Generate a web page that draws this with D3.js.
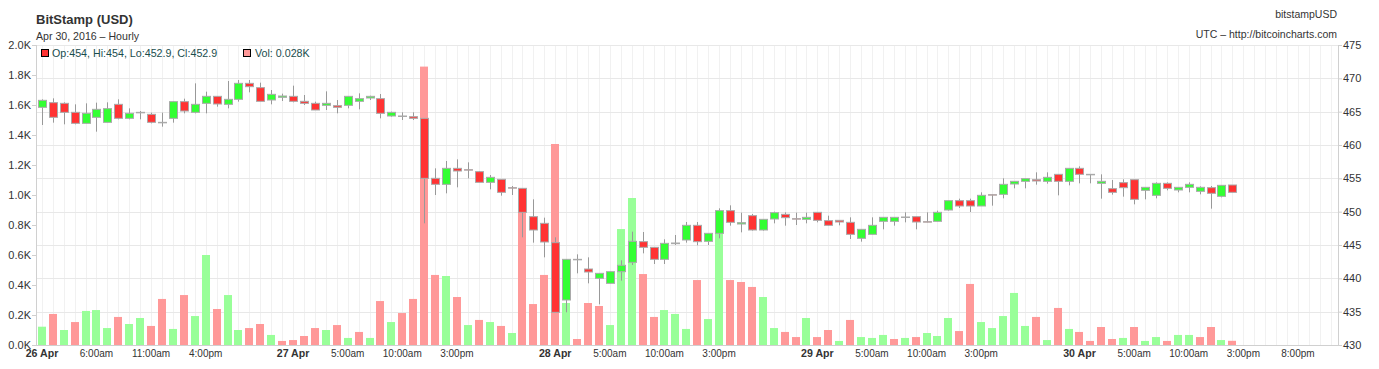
<!DOCTYPE html>
<html>
<head>
<meta charset="utf-8">
<script src="https://cdn.jsdelivr.net/npm/d3@7/dist/d3.min.js"></script>
<style>
	body { margin: 0; background: #fff; }
	text { font-family: "Liberation Sans", Arial, sans-serif; }
</style>
</head>
<body>
<svg id="chart" width="1379" height="369"></svg>
<script>
// Hourly candles, first one stamped 26 Apr 2016 01:00 UTC
var firstHour = Date.UTC(2016, 3, 26, 1);

var opens = [465.65,466.35,466.25,464.9,463.25,464.15,463.4,466.1,464.0,464.9,
	464.6,463.4,464.0,466.5,464.9,466.25,467.3,466.1,466.85,469.25,
	468.6,466.75,467.15,467.3,466.55,466.25,465.95,465.9,465.95,466.55,
	467.05,466.95,464.35,464.35,464.25,464.0,455.0,454.1,456.5,456.3,
	456.0,454.4,454.85,453.6,453.5,449.25,448.25,445.35,436.75,442.85,
	441.4,440.0,439.25,441.0,442.4,445.5,444.65,442.85,445.2,445.75,
	447.95,445.55,446.75,450.15,448.15,449.4,447.25,448.9,449.6,448.95,
	448.85,449.9,448.65,448.7,448.4,446.0,446.6,448.55,448.55,449.2,
	449.25,448.5,448.55,450.25,451.65,451.65,450.85,452.55,452.6,454.15,
	454.55,454.8,454.55,455.6,454.55,456.5,455.6,454.25,453.45,454.35,
	454.8,453.2,452.45,454.25,453.25,453.65,453.05,453.6,452.3,454.0];
var highs = [466.85,467.0,466.4,466.1,466.25,466.35,466.4,466.85,465.5,465.1,
	464.85,464.85,466.5,466.95,469.25,468.0,467.3,469.6,469.75,469.75,
	469.35,468.25,467.7,468.9,467.5,466.5,468.05,466.75,467.3,467.75,
	467.4,467.65,465.0,464.9,464.9,464.0,456.5,457.6,457.85,457.4,
	456.1,455.5,454.85,453.85,453.5,451.85,449.1,446.15,442.85,443.6,
	443.15,440.75,441.0,442.7,447.0,446.95,444.65,445.85,446.5,448.45,
	448.45,446.75,450.5,450.95,449.85,449.65,448.85,450.0,449.9,449.85,
	449.85,449.9,449.4,448.7,449.15,447.35,449.15,449.15,449.15,449.9,
	449.25,449.9,450.15,451.65,451.95,451.95,452.9,452.55,455.0,454.55,
	454.95,455.9,455.9,455.6,456.5,456.8,455.6,455.6,454.75,454.85,
	454.8,453.65,454.4,454.4,453.65,454.4,453.8,453.85,453.95,454.0];
var lows = [463.0,463.35,463.1,463.1,463.25,462.0,463.4,463.85,463.85,463.85,
	463.25,462.75,463.35,464.75,464.75,464.75,465.75,465.5,466.5,467.9,
	466.55,466.1,466.6,466.4,466.0,465.25,465.25,464.75,465.5,465.35,
	466.75,464.0,464.25,463.75,463.75,448.25,452.5,452.75,453.65,455.0,
	454.4,453.35,452.4,452.5,446.15,445.35,443.15,434.9,434.9,440.75,
	439.25,436.1,439.25,439.65,442.0,443.75,442.15,442.15,445.0,445.35,
	444.95,445.0,446.0,447.9,446.9,447.15,447.15,448.25,447.9,448.0,
	448.25,448.4,447.9,447.95,445.9,445.5,446.6,447.35,447.9,448.4,
	447.35,448.4,448.55,450.15,450.55,449.95,450.85,450.9,452.0,453.5,
	453.5,454.05,454.2,452.45,453.95,454.25,454.25,451.95,452.55,452.25,
	451.1,451.85,452.0,453.2,452.9,452.9,452.6,450.45,452.15,452.9];
var closes = [466.7,464.15,464.9,463.25,464.75,465.35,465.45,464.0,464.75,464.9,
	463.4,463.4,466.5,465.1,466.1,467.3,466.15,466.85,469.25,468.75,
	466.55,467.6,467.35,466.55,466.25,465.25,466.25,465.65,467.3,466.95,
	467.3,464.75,464.9,464.35,464.0,455.0,454.1,456.5,456.1,456.3,
	454.4,455.15,452.9,453.6,449.9,447.25,445.45,434.9,442.85,442.85,
	440.95,440.75,441.0,441.95,445.55,444.65,442.85,445.25,445.3,447.95,
	445.5,446.75,450.15,448.4,448.35,447.25,448.85,449.85,449.1,448.95,
	449.15,448.7,447.95,448.45,446.6,447.35,447.95,449.15,449.15,449.2,
	448.45,448.5,449.9,451.65,450.85,450.85,452.45,452.55,454.1,454.55,
	454.95,454.6,455.15,454.55,456.5,455.6,455.6,454.55,452.9,453.6,
	451.85,453.65,454.25,453.5,453.65,454.1,453.65,452.75,453.95,452.9];
var volumes = [122,207,100,153,227,233,113,187,140,180,
	127,307,107,333,193,600,240,333,100,113,
	140,67,27,33,60,113,100,133,47,87,
	47,293,153,213,307,1856,467,460,320,133,
	167,153,127,80,1044,273,467,1340,280,40,
	280,260,133,773,980,473,187,233,207,107,
	433,173,896,433,420,387,320,113,87,53,
	180,53,100,27,167,53,47,67,40,47,
	53,80,60,180,93,407,153,113,193,347,
	127,187,33,247,107,87,27,120,40,47,
	120,27,53,27,67,67,53,120,33,28];

var priceTicks = [430, 435, 440, 445, 450, 455, 460, 465, 470, 475];
var volumeTicks = [0, 200, 400, 600, 800, 1000, 1200, 1400, 1600, 1800, 2000];
// x axis ticks: day marks plus 5-hourly marks
var dayTicks = [Date.UTC(2016,3,26), Date.UTC(2016,3,27), Date.UTC(2016,3,28), Date.UTC(2016,3,29), Date.UTC(2016,3,30)];
var hourTicks = [Date.UTC(2016,3,26,6), Date.UTC(2016,3,26,11), Date.UTC(2016,3,26,16),
	Date.UTC(2016,3,27,5), Date.UTC(2016,3,27,10), Date.UTC(2016,3,27,15),
	Date.UTC(2016,3,28,5), Date.UTC(2016,3,28,10), Date.UTC(2016,3,28,15),
	Date.UTC(2016,3,29,5), Date.UTC(2016,3,29,10), Date.UTC(2016,3,29,15),
	Date.UTC(2016,3,30,5), Date.UTC(2016,3,30,10), Date.UTC(2016,3,30,15), Date.UTC(2016,3,30,20)];

var data = opens.map(function(o, i) {
	return {
		time: new Date(firstHour + i * 3600e3),
		open: o, high: highs[i], low: lows[i], close: closes[i], volume: volumes[i],
		// volume colour follows close vs previous close
		volUp: i == 0 ? true : closes[i] > closes[i-1]
	};
});

var plotLeft = 36, plotRight = 1338, plotTop = 45, plotBottom = 345;
var upColor = '#33ff33', downColor = '#ff3333',
	volUpColor = '#99ff99', volDownColor = '#ff9999',
	gridColor = '#e8e8e8', axisColor = '#d0d0d0', textColor = '#333';

var svg = d3.select('#chart');

var x = d3.scaleUtc()
	.domain([new Date(Date.UTC(2016,3,26,0,28)), new Date(Date.UTC(2016,3,30,23,40))])
	.range([plotLeft, plotRight]);
var y = d3.scaleLinear().domain([430, 475]).range([plotBottom, plotTop]);
var yVol = d3.scaleLinear().domain([0, 2000]).range([plotBottom, plotTop]);

// Grid
var grid = svg.append('g').attr('class', 'grid');
grid.selectAll('line.v')
	.data(d3.utcHour.range(x.domain()[0], x.domain()[1]))
	.enter().append('line')
	.attr('class', 'v')
	.attr('x1', function(d) { return Math.round(x(d)) + 0.5; })
	.attr('x2', function(d) { return Math.round(x(d)) + 0.5; })
	.attr('y1', plotTop).attr('y2', plotBottom)
	.style('stroke', '#f1f1f1');

grid.selectAll('line.h')
	.data(priceTicks)
	.enter().append('line')
	.attr('class', 'h')
	.attr('x1', plotLeft).attr('x2', plotRight)
	.attr('y1', function(d) { return Math.round(y(d)) + 0.5; })
	.attr('y2', function(d) { return Math.round(y(d)) + 0.5; })
	.style('stroke', gridColor);

// Volume bars
var barW = 8;
svg.append('g').attr('class', 'volume')
	.selectAll('rect')
	.data(data)
	.enter().append('rect')
	.attr('x', function(d) { return Math.round(x(d.time) - barW/2); })
	.attr('y', function(d) { return yVol(d.volume); })
	.attr('width', barW)
	.attr('height', function(d) { return plotBottom - yVol(d.volume); })
	.style('fill', function(d) { return d.volUp ? volUpColor : volDownColor; });

// Candles
var candles = svg.append('g').attr('class', 'candles')
	.selectAll('g')
	.data(data)
	.enter().append('g')
	.attr('transform', function(d) { return 'translate(' + (Math.round(x(d.time)) + 0.5) + ',0)'; });

candles.append('line')
	.attr('y1', function(d) { return y(d.high); })
	.attr('y2', function(d) { return y(d.low); })
	.style('stroke', '#999')
	.style('stroke-width', 1);

candles.append('rect')
	.attr('x', -4)
	.attr('width', 8)
	.attr('y', function(d) { return y(Math.max(d.open, d.close)); })
	.attr('height', function(d) { return Math.max(0.5, Math.abs(y(d.open) - y(d.close))); })
	.style('fill', function(d) { return d.close > d.open ? upColor : downColor; })
	.style('stroke', '#aaa')
	.style('stroke-width', 1);

// Axes
var axisG = svg.append('g').attr('class', 'axes');
axisG.append('line').attr('x1', plotLeft + 0.5).attr('x2', plotLeft + 0.5).attr('y1', plotTop).attr('y2', plotBottom + 0.5).style('stroke', axisColor);
axisG.append('line').attr('x1', plotRight + 0.5).attr('x2', plotRight + 0.5).attr('y1', plotTop).attr('y2', plotBottom + 0.5).style('stroke', axisColor);
axisG.append('line').attr('x1', plotLeft).attr('x2', plotRight).attr('y1', plotBottom + 0.5).attr('y2', plotBottom + 0.5).style('stroke', axisColor);

var priceAxis = d3.axisRight(y).tickValues(priceTicks).tickSize(4).tickPadding(1)
	.tickFormat(d3.format('d'));
var pa = svg.append('g').attr('transform', 'translate(' + plotRight + ',0)').call(priceAxis);

var volAxis = d3.axisLeft(yVol).tickValues(volumeTicks).tickSize(4).tickPadding(1)
	.tickFormat(function(d) { return d3.format('.1f')(d / 1000) + 'K'; });
var va = svg.append('g').attr('transform', 'translate(' + plotLeft + ',0)').call(volAxis);

[pa, va].forEach(function(a) {
	a.select('.domain').remove();
	a.selectAll('line').style('stroke', axisColor);
	a.selectAll('text').style('font-size', '11px').style('fill', textColor)
		.style('font-family', '"Liberation Sans", Arial, sans-serif');
});

var dayFmt = d3.utcFormat('%d %b'),
	hourFmt = function(d) { return d3.utcFormat('%-I:%M')(d) + d3.utcFormat('%p')(d).toLowerCase(); };

var xl = svg.append('g').attr('class', 'x-labels');
xl.selectAll('text.day')
	.data(dayTicks)
	.enter().append('text')
	.attr('class', 'day')
	.attr('x', function(d) { return Math.max(x(new Date(d)), 42); })
	.attr('y', 357)
	.attr('text-anchor', 'middle')
	.style('font-size', '10.6px').style('font-weight', 'bold').style('fill', textColor)
	.text(function(d) { return dayFmt(new Date(d)); });
xl.selectAll('text.hour')
	.data(hourTicks)
	.enter().append('text')
	.attr('class', 'hour')
	.attr('x', function(d) { return x(new Date(d)); })
	.attr('y', 357)
	.attr('text-anchor', 'middle')
	.style('font-size', '10px').style('fill', textColor)
	.text(function(d) { return hourFmt(new Date(d)); });

// Titles
svg.append('text').attr('x', 36).attr('y', 24)
	.style('font-size', '13px').style('font-weight', 'bold').style('fill', textColor)
	.text('BitStamp (USD)');
svg.append('text').attr('x', 36).attr('y', 40)
	.style('font-size', '10.6px').style('fill', textColor)
	.text('Apr 30, 2016 \u2013 Hourly');
svg.append('text').attr('x', 1337).attr('y', 18).attr('text-anchor', 'end')
	.style('font-size', '10.5px').style('fill', textColor)
	.text('bitstampUSD');
svg.append('text').attr('x', 1337).attr('y', 38).attr('text-anchor', 'end')
	.style('font-size', '10.5px').style('fill', textColor)
	.text('UTC \u2013 http://bitcoincharts.com');

// Legend (last candle)
var last = data[data.length - 1];
var legend = svg.append('g').attr('class', 'legend');
legend.append('rect').attr('x', 41.5).attr('y', 49.5).attr('width', 7).attr('height', 7)
	.style('fill', last.close > last.open ? upColor : downColor).style('stroke', '#000');
legend.append('text').attr('x', 52).attr('y', 57)
	.style('font-size', '10.7px').style('fill', '#1a4d4d')
	.text('Op:' + last.open + ', Hi:' + last.high + ', Lo:' + last.low + ', Cl:' + last.close);
legend.append('rect').attr('x', 243.5).attr('y', 49.5).attr('width', 7).attr('height', 7)
	.style('fill', last.volUp ? volUpColor : volDownColor).style('stroke', '#000');
legend.append('text').attr('x', 255).attr('y', 57)
	.style('font-size', '10.7px').style('fill', '#1a4d4d')
	.text('Vol: ' + d3.format('.3f')(last.volume / 1000) + 'K');
</script>
</body>
</html>
